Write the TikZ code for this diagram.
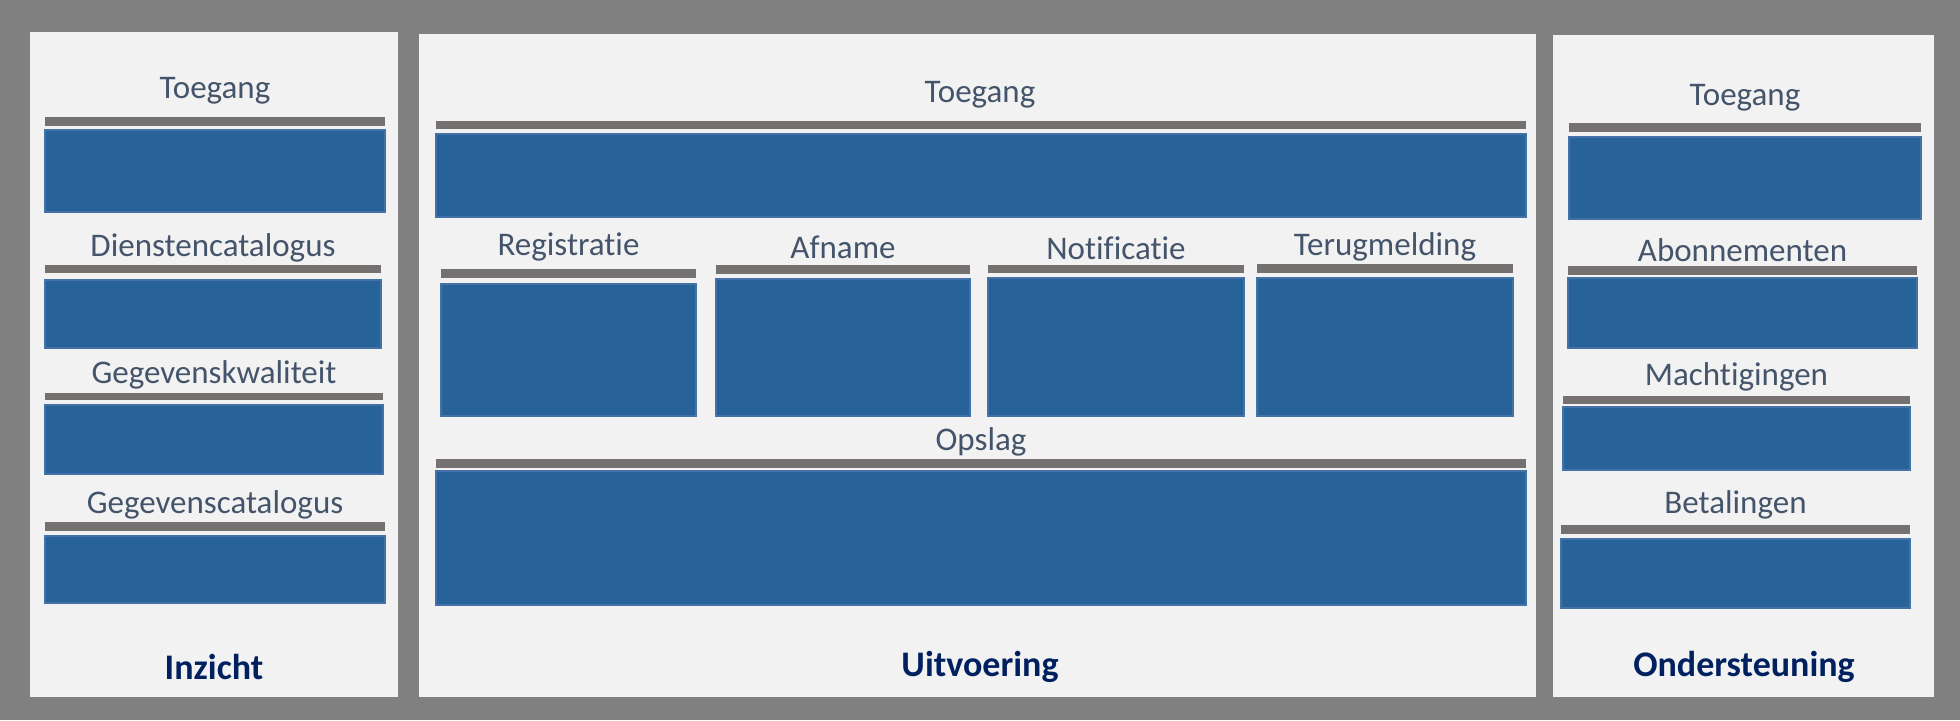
\documentclass[tikz,border=0pt]{standalone}
\usepackage{fontspec}
\setmainfont{Carlito}[Ligatures=NoCommon]
\usepackage{xcolor}
\definecolor{achtergrond}{HTML}{808080}
\definecolor{paneel}{HTML}{F2F2F2}
\definecolor{balk}{HTML}{767171}
\definecolor{blokblauw}{HTML}{276399}
\definecolor{blokrand}{HTML}{4472A8}
\definecolor{labelblauw}{HTML}{44546A}
\definecolor{titelblauw}{HTML}{002060}

\tikzset{
  panel/.style={fill=paneel},
  balkje/.style={fill=balk},
  blok/.style={fill=blokblauw, draw=blokrand, line width=0.8pt},
  lbl/.style={text=labelblauw, font=\fontsize{16.5}{19}\selectfont, inner sep=0pt, yshift=-1.2pt},
  titel/.style={text=titelblauw, font=\fontsize{18}{21}\selectfont\bfseries, inner sep=0pt}
}

\begin{document}
\begin{tikzpicture}[x=0.5pt, y=-0.5pt]
  \useasboundingbox (0,0) rectangle (1960,720);
  \fill[achtergrond] (0,0) rectangle (1960,720);
  % three panels
  \fill[panel] (30,32) rectangle (398,697);
  \fill[panel] (419,34) rectangle (1536,697);
  \fill[panel] (1553,35) rectangle (1934,697);

  % Inzicht: label, bar and block per row
  \foreach \txt/\xa/\xb/\ty/\ya/\yb/\ka/\kb [count=\i] in {
    Toegang/45/385/88/117/126/130/212,
    Dienstencatalogus/45/381/245/265/273/280/348,
    Gegevenskwaliteit/45/383/372/393/400/405/474,
    Gegevenscatalogus/45/385/502/522/531/536/603} {
    \fill[balkje] (\xa,\ya) rectangle (\xb,\yb);
    \draw[blok] (\xa,\ka) rectangle (\xb,\kb);
    \node[lbl] (inz\i) at ({(\xa+\xb)/2},\ty) {\txt};
  }

  % Uitvoering
  \fill[balkje] (436,121) rectangle (1526,129);
  \draw[blok] (436,134) rectangle (1526,217);
  \node[lbl] (uitToegang) at (980,92) {Toegang};
  \foreach \txt/\xa/\xb/\ty/\ya/\yb/\ka [count=\i] in {
    Registratie/441/696/245/269/278/284,
    Afname/716/970/245/265/274/279,
    Notificatie/988/1244/246/265/273/278,
    Terugmelding/1257/1513/244/264/273/278} {
    \fill[balkje] (\xa,\ya) rectangle (\xb,\yb);
    \draw[blok] (\xa,\ka) rectangle (\xb,416);
    \node[lbl] (uit\i) at ({(\xa+\xb)/2},\ty) {\txt};
  }
  \fill[balkje] (436,459) rectangle (1526,468);
  \draw[blok] (436,471) rectangle (1526,605);
  \node[lbl] (uitOpslag) at (981,439) {Opslag};

  % Ondersteuning
  \foreach \txt/\xa/\xb/\ty/\ya/\yb/\ka/\kb [count=\i] in {
    Toegang/1569/1921/95/123/132/137/219,
    Abonnementen/1568/1917/248/266/275/278/348,
    Machtigingen/1563/1910/374/396/404/407/470,
    Betalingen/1561/1910/502/525/534/539/608} {
    \fill[balkje] (\xa,\ya) rectangle (\xb,\yb);
    \draw[blok] (\xa,\ka) rectangle (\xb,\kb);
    \node[lbl] (ond\i) at ({(\xa+\xb)/2},\ty) {\txt};
  }

  % panel titles
  \node[titel] (inzicht) at (214,667) {Inzicht};
  \node[titel] (uitvoering) at (980,667) {Uitvoering};
  \node[titel] (ondersteuning) at (1744,667) {Ondersteuning};
\end{tikzpicture}
\end{document}
